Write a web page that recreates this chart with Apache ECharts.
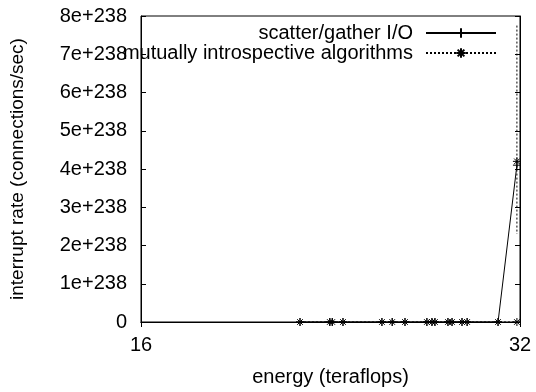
<!DOCTYPE html>
<html>
<head>
<meta charset="utf-8">
<script src="https://cdn.jsdelivr.net/npm/echarts@6/dist/echarts.min.js"></script>
<style>html,body{margin:0;padding:0;background:#fff}#c{width:536px;height:392px}</style>
</head>
<body>
<div id="c"></div>
<script>
// Data
const energy = [21.4, 22.6, 22.7, 23.15, 24.86, 25.33, 25.93, 26.99, 27.24, 27.39, 28.05, 28.26, 28.78, 29.05, 30.74];
const scatterGatherBase = [0, 0, 0, 0, 0, 0, 0, 0, 0, 0, 0, 0, 0, 0, 0];
const scatterGatherTailX = [31.82];
const scatterGatherTailY = [4.1e238];
const mutualBase = [0, 0, 0, 0, 0, 0, 0, 0, 0, 0, 0, 0, 0, 0, 0];
const mutualTailX = [31.82, 31.82, 31.82, 31.82];
const mutualTailY = [0, 7.75e238, 4.2e238, 2.3e238];
const yTicks = [0, 1e238, 2e238, 3e238, 4e238, 5e238, 6e238, 7e238, 8e238];
const seriesNames = ['scatter/gather I/O', 'mutually introspective algorithms'];

const FONT = 'Liberation Sans, Arial, Helvetica, sans-serif';
const FS = 20;
const PLUS = 'path://M0,5L10,5M5,0L5,10';
const STAR = 'path://M0,5L10,5M5,0L5,10M1.5,1.5L8.5,8.5M1.5,8.5L8.5,1.5';

const sgData = energy.map((x, i) => [x, scatterGatherBase[i]])
  .concat(scatterGatherTailX.map((x, i) => [x, scatterGatherTailY[i]]));

const muData = energy.map((x, i) => [x, mutualBase[i]]);
muData.push([mutualTailX[0], mutualTailY[0]]);
muData.push([mutualTailX[0], '-']);
muData.push({ value: [mutualTailX[1], mutualTailY[1]], symbol: 'none' });
muData.push({ value: [mutualTailX[2], mutualTailY[2]] });
muData.push({ value: [mutualTailX[3], mutualTailY[3]], symbol: 'none' });

const chart = echarts.init(document.getElementById('c'), null, { renderer: 'canvas' });
const axisCommon = {
  axisLine: { show: true, lineStyle: { color: '#000', width: 1 } },
  axisTick: { show: true, inside: true, length: 5, lineStyle: { color: '#000' } },
  splitLine: { show: false }
};
chart.setOption({
  animation: false,
  backgroundColor: '#fff',
  textStyle: { fontFamily: FONT, color: '#000' },
  grid: { left: 141, right: 16, top: 16, bottom: 65, show: true, borderColor: '#000', borderWidth: 1 },
  legend: {
    orient: 'vertical', align: 'right', right: 39, top: 23, padding: 0,
    itemWidth: 70, itemHeight: 12, itemGap: 0,
    textStyle: { fontFamily: FONT, fontSize: FS, color: '#000', lineHeight: 19, padding: [0, 8, 0, 0] },
    data: seriesNames
  },
  xAxis: [
    Object.assign({
      type: 'log', logBase: 2, min: 16, max: 32,
      name: 'energy (teraflops)', nameLocation: 'middle', nameGap: 45,
      nameTextStyle: { fontFamily: FONT, fontSize: FS, color: '#000' },
      axisLabel: { fontFamily: FONT, fontSize: FS, color: '#000', margin: 13 }
    }, axisCommon),
    Object.assign({
      type: 'log', logBase: 2, min: 16, max: 32, position: 'top',
      axisLabel: { show: false }
    }, axisCommon)
  ],
  yAxis: [
    Object.assign({
      type: 'value', min: yTicks[0], max: yTicks[yTicks.length - 1], interval: yTicks[1] - yTicks[0],
      name: 'interrupt rate (connections/sec)', nameLocation: 'middle', nameGap: 114, nameRotate: 90,
      nameTextStyle: { fontFamily: FONT, fontSize: 19, color: '#000' },
      axisLabel: {
        fontFamily: FONT, fontSize: FS, color: '#000', margin: 14,
        formatter: v => v === 0 ? '0' : Math.round(v / 1e238) + 'e+238'
      }
    }, axisCommon),
    Object.assign({
      type: 'value', min: yTicks[0], max: yTicks[yTicks.length - 1], interval: yTicks[1] - yTicks[0],
      position: 'right', axisLabel: { show: false }
    }, axisCommon)
  ],
  series: [
    {
      name: seriesNames[0], type: 'line', data: sgData,
      symbol: PLUS, symbolSize: 8,
      lineStyle: { color: '#000', width: 1, type: 'solid' },
      itemStyle: { color: '#000', borderColor: '#000', borderWidth: 1 },
      connectNulls: false
    },
    {
      name: seriesNames[1], type: 'line', data: muData,
      symbol: STAR, symbolSize: 8,
      lineStyle: { color: '#000', width: 1, type: [2, 2] },
      itemStyle: { color: '#000', borderColor: '#000', borderWidth: 1 },
      connectNulls: false
    }
  ]
});
</script>
</body>
</html>
